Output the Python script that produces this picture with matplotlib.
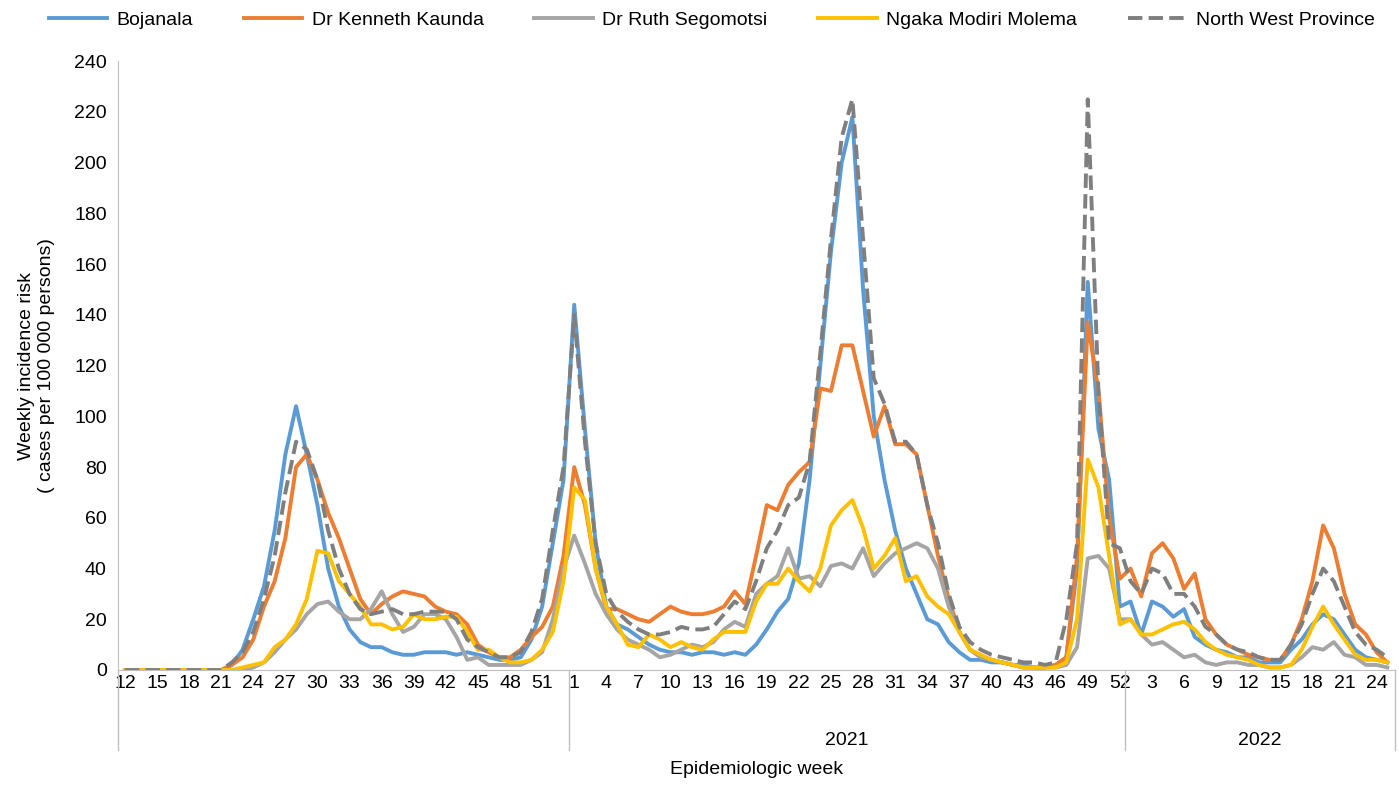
import matplotlib.pyplot as plt
import matplotlib.transforms as mtransforms
import numpy as np

# weeks: 2020 wk12-53, 2021 wk1-52, 2022 wk1-25
weeks = list(range(12, 54)) + list(range(1, 53)) + list(range(1, 26))

bojanala = ([0]*10 + [2, 8, 20, 33, 55, 85, 104, 85, 65, 40, 25, 16, 11, 9, 9, 7, 6, 6, 7, 7, 7, 6, 7, 6, 5, 4, 4, 5, 12, 25, 50, 75]
            + [144, 95, 50, 25, 18, 16, 13, 10, 8, 7, 7, 6, 7, 7, 6, 7, 6, 10, 16, 23, 28, 42, 75, 120, 165, 200, 218, 150, 100, 75,
               55, 40, 30, 20, 18, 11, 7, 4, 4, 3, 3, 2, 2, 1, 1, 2, 5, 40, 153, 95, 75, 25]
            + [27, 14, 27, 25, 21, 24, 13, 10, 8, 7, 5, 5, 3, 3, 3, 8, 12, 18, 22, 20, 14, 8, 5, 4, 3])
kaunda = ([0]*10 + [2, 5, 12, 25, 35, 52, 80, 85, 75, 62, 52, 40, 28, 22, 26, 29, 31, 30, 29, 25, 23, 22, 18, 10, 7, 5, 5, 8, 13, 17, 25, 45]
          + [80, 65, 40, 24, 24, 22, 20, 19, 22, 25, 23, 22, 22, 23, 25, 31, 26, 45, 65, 63, 73, 78, 82, 111, 110, 128, 128, 110, 92, 104,
             89, 89, 85, 65, 45, 28, 15, 8, 5, 4, 3, 2, 1, 1, 1, 2, 5, 45, 137, 110, 60, 36]
          + [40, 29, 46, 50, 44, 32, 38, 20, 14, 10, 8, 6, 5, 4, 4, 10, 20, 35, 57, 48, 30, 18, 14, 7, 3])
ruth = ([0]*12 + [1, 3, 7, 12, 16, 22, 26, 27, 23, 20, 20, 24, 31, 22, 15, 17, 22, 22, 20, 13, 4, 5, 2, 2, 2, 2, 4, 7, 20, 40]
        + [53, 42, 30, 22, 16, 12, 10, 8, 5, 6, 8, 10, 9, 11, 16, 19, 17, 30, 34, 37, 48, 36, 37, 33, 41, 42, 40, 48, 37, 42,
           46, 48, 50, 48, 40, 25, 15, 8, 5, 4, 3, 2, 1, 1, 1, 1, 2, 9, 44, 45, 40, 20]
        + [20, 14, 10, 11, 8, 5, 6, 3, 2, 3, 3, 2, 2, 1, 1, 2, 5, 9, 8, 11, 6, 5, 2, 2, 1])
ngaka = ([0]*11 + [1, 2, 3, 9, 12, 18, 28, 47, 46, 35, 30, 25, 18, 18, 16, 17, 22, 20, 20, 21, 21, 15, 8, 8, 5, 3, 3, 4, 8, 15, 35]
         + [72, 67, 40, 25, 18, 10, 9, 14, 12, 9, 11, 9, 8, 12, 15, 15, 15, 27, 34, 34, 40, 35, 31, 40, 57, 63, 67, 56, 40, 45,
            52, 35, 37, 29, 25, 22, 15, 8, 6, 4, 3, 2, 1, 1, 1, 1, 3, 20, 83, 72, 45, 18]
         + [20, 14, 14, 16, 18, 19, 16, 11, 8, 6, 5, 4, 2, 1, 1, 2, 8, 17, 25, 18, 12, 6, 4, 4, 3])
north_west = ([0]*10 + [3, 7, 15, 28, 45, 70, 90, 87, 75, 55, 40, 30, 24, 22, 23, 24, 22, 22, 23, 23, 23, 20, 12, 9, 7, 5, 5, 7, 15, 28, 55, 80]
              + [140, 90, 50, 30, 23, 19, 16, 14, 14, 15, 17, 16, 16, 17, 22, 27, 24, 35, 48, 55, 65, 68, 82, 125, 170, 210, 225, 170, 115, 105,
                 90, 90, 85, 65, 50, 30, 17, 11, 8, 6, 5, 4, 3, 3, 2, 3, 20, 50, 225, 110, 50, 48]
              + [35, 30, 40, 38, 30, 30, 25, 17, 14, 10, 8, 7, 5, 4, 4, 10, 18, 30, 40, 35, 25, 15, 10, 8, 5])

series = [
    ("Bojanala", bojanala, "#5B9BD5", "-"),
    ("Dr Kenneth Kaunda", kaunda, "#ED7D31", "-"),
    ("Dr Ruth Segomotsi", ruth, "#A5A5A5", "-"),
    ("Ngaka Modiri Molema", ngaka, "#FFC000", "-"),
    ("North West Province", north_west, "#7F7F7F", "--"),
]

plt.rcParams['font.family'] = ['Liberation Sans', 'DejaVu Sans']
fig = plt.figure(figsize=(13.99, 7.85), dpi=100)
ax = fig.add_axes([0.0843, 0.1465, 0.9127, 0.7755])

x = np.arange(len(weeks))
for name, vals, col, ls in series:
    ax.plot(x, vals, color=col, ls=ls, lw=2.8, label=name)

ax.set_xlim(-0.65, len(weeks) - 0.3)
ax.set_ylim(0, 240)
ax.set_yticks(range(0, 241, 20))
ax.set_xticks(x[::3])
ax.set_xticklabels([str(w) for w in weeks[::3]])
ax.tick_params(labelsize=14, length=0)
ax.tick_params(axis='y', pad=8)
for s in ['top', 'right']:
    ax.spines[s].set_visible(False)
for s in ['left', 'bottom']:
    ax.spines[s].set_color('#BFBFBF')
ax.set_ylabel("Weekly incidence risk\n( cases per 100 000 persons)", fontsize=14, labelpad=14)

# year grouping below axis
trans = mtransforms.blended_transform_factory(ax.transData, ax.transAxes)
for xb in [-0.65, 41.5, 93.5, len(weeks) - 0.3]:
    ax.plot([xb, xb], [0, -0.132], color='#BFBFBF', lw=1, transform=trans, clip_on=False)
ax.text((41.5 + 93.5) / 2, -0.115, "2021", transform=trans, ha='center', va='center', fontsize=14)
ax.text((93.5 + len(weeks) - 0.3) / 2, -0.115, "2022", transform=trans, ha='center', va='center', fontsize=14)
ax.text(0.5, -0.163, "Epidemiologic week", transform=ax.transAxes, ha='center', va='center', fontsize=14)

ax.legend(loc='lower center', bbox_to_anchor=(0.465, 1.025), ncol=5, frameon=False, fontsize=14,
          handlelength=3.0, handletextpad=0.5, columnspacing=2.6)

fig.savefig("out.png", dpi=100)
